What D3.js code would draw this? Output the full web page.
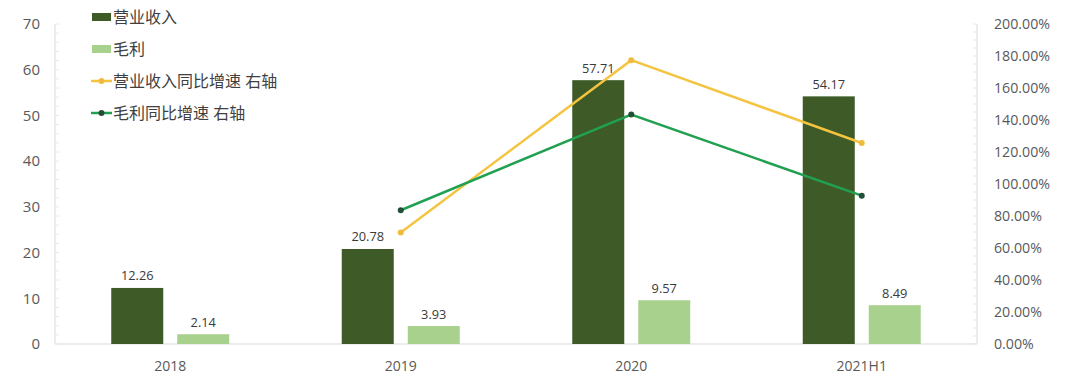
<!DOCTYPE html>
<html><head><meta charset="utf-8">
<script src="https://cdn.jsdelivr.net/npm/d3@7"></script>
<style>body{margin:0;background:#fff;} svg{display:block;}</style>
</head><body>
<svg id="c" width="1080" height="376"></svg>
<script>
const categories = ["2018", "2019", "2020", "2021H1"];
const revenue = [12.26, 20.78, 57.71, 54.17];
const grossProfit = [2.14, 3.93, 9.57, 8.49];
const revenueGrowth = [null, 69.7, 177.4, 125.6];
const profitGrowth = [null, 83.6, 143.4, 92.7];
const leftTicks = [0, 10, 20, 30, 40, 50, 60, 70];
const rightTicks = [0, 20, 40, 60, 80, 100, 120, 140, 160, 180, 200];
const seriesNames = ["营业收入", "毛利", "营业收入同比增速 右轴", "毛利同比增速 右轴"];

const svg = d3.select("#c");
const font = "'Open Sans','Noto Sans CJK SC',sans-serif";
const L = 55, R = 977, T = 24, B = 344;
const x = d3.scaleBand().domain(categories).range([L, R]);
const yL = d3.scaleLinear().domain([0, 70]).range([B, T]);
const yR = d3.scaleLinear().domain([0, 200]).range([B, T]);
const barW = 52, gap = 14;

// axes lines
const axisColor = "#d9d9d9";
svg.append("line").attr("x1", L).attr("x2", L).attr("y1", T).attr("y2", B).attr("stroke", axisColor);
svg.append("line").attr("x1", R).attr("x2", R).attr("y1", T).attr("y2", B).attr("stroke", axisColor);
svg.append("line").attr("x1", L).attr("x2", R).attr("y1", B).attr("y2", B).attr("stroke", axisColor);
// minor ticks
d3.range(0, 70.1, 2).forEach(v => {
  svg.append("line").attr("x1", L).attr("x2", L + 4).attr("y1", yL(v)).attr("y2", yL(v)).attr("stroke", "#e8e8e8");
});
d3.range(0, 200.1, 5).forEach(v => {
  svg.append("line").attr("x1", R - 4).attr("x2", R).attr("y1", yR(v)).attr("y2", yR(v)).attr("stroke", "#e8e8e8");
});

// left tick labels
svg.append("g").selectAll("text").data(leftTicks).join("text")
  .attr("x", 40).attr("y", d => yL(d)).attr("dy", "0.35em").attr("text-anchor", "end")
  .attr("font-family", font).attr("font-size", 15).attr("fill", "#595959").text(d => d);
// right tick labels
svg.append("g").selectAll("text").data(rightTicks).join("text")
  .attr("x", 994).attr("y", d => yR(d)).attr("dy", "0.35em").attr("text-anchor", "start")
  .attr("font-family", font).attr("font-size", 14.2).attr("fill", "#595959").text(d => d.toFixed(2) + "%");
// category labels
svg.append("g").selectAll("text").data(categories).join("text")
  .attr("x", d => x(d) + x.bandwidth() / 2).attr("y", 366).attr("dy", "0.35em").attr("text-anchor", "middle")
  .attr("font-family", font).attr("font-size", 14).attr("fill", "#595959").text(d => d);

const darkC = "#3d5a27", lightC = "#a9d18e";
// bars
const cx = c => x(c) + x.bandwidth() / 2;
svg.append("g").selectAll("rect").data(categories).join("rect")
  .attr("x", d => cx(d) - gap / 2 - barW).attr("width", barW)
  .attr("y", (d, i) => yL(revenue[i])).attr("height", (d, i) => B - yL(revenue[i])).attr("fill", darkC);
svg.append("g").selectAll("rect").data(categories).join("rect")
  .attr("x", d => cx(d) + gap / 2).attr("width", barW)
  .attr("y", (d, i) => yL(grossProfit[i])).attr("height", (d, i) => B - yL(grossProfit[i])).attr("fill", lightC);
// bar labels
svg.append("g").selectAll("text").data(categories).join("text")
  .attr("x", d => cx(d) - gap / 2 - barW / 2).attr("y", (d, i) => yL(revenue[i]) - 12).attr("dy", "0.35em")
  .attr("text-anchor", "middle").attr("font-family", font).attr("font-size", 12.8).attr("fill", "#3a3a3a")
  .text((d, i) => revenue[i].toFixed(2));
svg.append("g").selectAll("text").data(categories).join("text")
  .attr("x", d => cx(d) + gap / 2 + barW / 2).attr("y", (d, i) => yL(grossProfit[i]) - 12).attr("dy", "0.35em")
  .attr("text-anchor", "middle").attr("font-family", font).attr("font-size", 12.8).attr("fill", "#3a3a3a")
  .text((d, i) => grossProfit[i].toFixed(2));

// lines
const orangeC = "#f4c440", greenC = "#21a052";
function drawLine(vals, color, mColor) {
  const pts = categories.map((c, i) => [cx(c), vals[i]]).filter(p => p[1] != null);
  const line = d3.line().x(p => p[0]).y(p => yR(p[1]));
  svg.append("path").attr("d", line(pts)).attr("fill", "none").attr("stroke", color).attr("stroke-width", 2.5);
  svg.append("g").selectAll("circle").data(pts).join("circle")
    .attr("cx", p => p[0]).attr("cy", p => yR(p[1])).attr("r", 3).attr("fill", mColor);
}
drawLine(revenueGrowth, orangeC, "#f0bb3a");
drawLine(profitGrowth, greenC, "#234f36");

// legend
const lg = svg.append("g");
const rowsY = [17, 49, 81, 113];
seriesNames.forEach((n, i) => {
  const y = rowsY[i];
  if (i < 2) {
    lg.append("rect").attr("x", 92).attr("y", y - 4).attr("width", 19).attr("height", 8).attr("fill", i === 0 ? darkC : lightC);
  } else {
    const c = i === 2 ? orangeC : greenC;
    lg.append("line").attr("x1", 91).attr("x2", 112).attr("y1", y).attr("y2", y).attr("stroke", c).attr("stroke-width", 2.5);
    lg.append("circle").attr("cx", 101.5).attr("cy", y).attr("r", 3).attr("fill", i === 2 ? "#f0bb3a" : "#234f36");
  }
  lg.append("text").attr("x", 113).attr("y", y).attr("dy", "0.35em").attr("font-family", font)
    .attr("font-size", 16).attr("fill", "#404040").text(n);
});
</script>
</body></html>
